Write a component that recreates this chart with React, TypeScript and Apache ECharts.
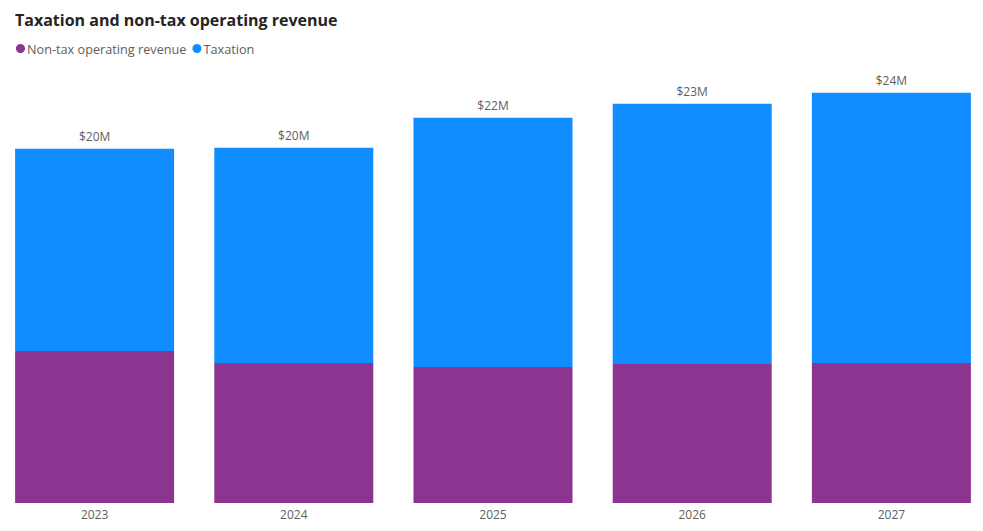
import React, { useEffect, useRef } from "react";
import * as echarts from "echarts";

const years = ["2023", "2024", "2025", "2026", "2027"];
const nonTaxRevenue = [8.76, 8.07, 7.84, 8.01, 8.07];
const taxation = [11.64, 12.39, 14.35, 14.99, 15.56];

const PURPLE = "#8B3591";
const BLUE = "#118DFF";
const FONT = "'Open Sans', 'Noto Sans', sans-serif";

export default function App() {
  const ref = useRef<HTMLDivElement>(null);

  useEffect(() => {
    if (!ref.current) return;
    const chart = echarts.init(ref.current, undefined, { renderer: "svg" });
    const totals = years.map((_, i) => nonTaxRevenue[i] + taxation[i]);
    chart.setOption({
      animation: false,
      textStyle: { fontFamily: FONT },
      title: {
        text: "Taxation and non-tax operating revenue",
        left: 15,
        top: 7,
        textStyle: { fontSize: 16, fontWeight: "bold", color: "#252423", fontFamily: FONT },
      },
      legend: {
        left: 16,
        top: 37,
        icon: "circle",
        itemWidth: 9,
        itemHeight: 9,
        itemGap: 6,
        textStyle: { fontSize: 12.7, color: "#605E5C", padding: [0, 0, 0, -3] },
        data: ["Non-tax operating revenue", "Taxation"],
      },
      grid: { left: 0, right: 0, top: 69, bottom: 28, containLabel: false },
      xAxis: {
        type: "category",
        data: years,
        axisLine: { show: false },
        axisTick: { show: false },
        axisLabel: { color: "#605E5C", fontSize: 12, margin: 5 },
      },
      yAxis: {
        type: "value",
        min: 0,
        max: 25,
        show: false,
        splitLine: { show: false },
      },
      series: [
        {
          name: "Non-tax operating revenue",
          type: "bar",
          stack: "total",
          data: nonTaxRevenue,
          barWidth: 159,
          itemStyle: { color: PURPLE },
        },
        {
          name: "Taxation",
          type: "bar",
          stack: "total",
          data: taxation,
          barWidth: 159,
          itemStyle: { color: BLUE },
          label: {
            show: true,
            position: "top",
            distance: 6,
            color: "#605E5C",
            fontSize: 12,
            formatter: (p: any) => `$${Math.round(totals[p.dataIndex])}M`,
          },
        },
      ],
    });
    return () => chart.dispose();
  }, []);

  return (
    <div
      style={{
        position: "fixed",
        left: 0,
        top: 0,
        width: 983,
        height: 531,
        overflow: "hidden",
        background: "#fff",
      }}
    >
      <div
        ref={ref}
        style={{ position: "absolute", left: -5, top: 0, width: 996, height: 531 }}
      />
    </div>
  );
}
